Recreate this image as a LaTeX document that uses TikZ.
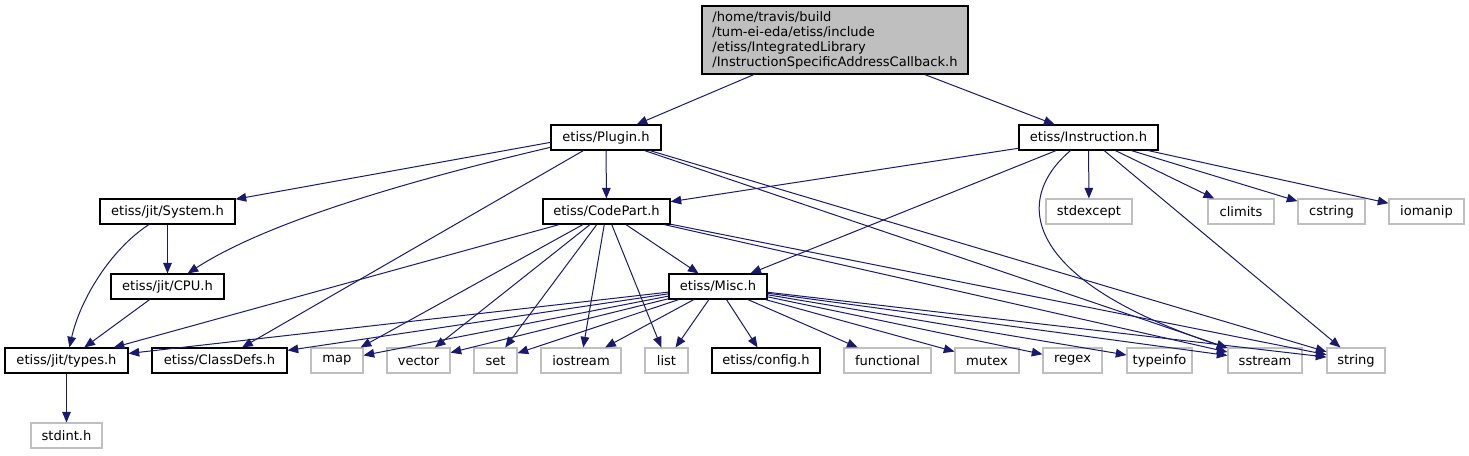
\documentclass[tikz,border=0pt]{standalone}
\usepackage{fontspec}
\setmainfont{DejaVu Sans}
\usetikzlibrary{arrows.meta}
\definecolor{incblue}{HTML}{191970}
\definecolor{sysgray}{HTML}{BFBFBF}
\tikzset{
  hfile/.style={draw=black, line width=0.8pt, minimum height=18.75pt, inner sep=0pt,
    font=\fontsize{9.8}{11.25}\selectfont},
  sfile/.style={hfile, draw=sysgray},
  bw/.style={minimum width=#1*0.75pt},
  inc/.style={draw=incblue, line width=0.75pt, -{Triangle[length=8pt,width=6.5pt]}},
}
\begin{document}
\begin{tikzpicture}[x=0.75pt,y=-0.75pt]
    \useasboundingbox (0,0) rectangle (1469,455);
    \node[hfile, fill=sysgray, bw=266, minimum height=51pt, align=left] (root) at (835,40)
      {/home/travis/build\\/tum-ei-eda/etiss/include\\/etiss/IntegratedLibrary\\/InstructionSpecificAddressCallback.h};
    \node[hfile, bw=110] (plugin) at (606,137.5) {etiss/Plugin.h};
    \node[hfile, bw=139] (instr) at (1088.5,137.5) {etiss/Instruction.h};
    \node[hfile, bw=135] (system) at (167.5,211.5) {etiss/jit/System.h};
    \node[hfile, bw=127] (codepart) at (606.5,211.5) {etiss/CodePart.h};
    \node[hfile, bw=113] (cpu) at (167.5,286.5) {etiss/jit/CPU.h};
    \node[hfile, bw=98] (misc) at (718,286.5) {etiss/Misc.h};
    \node[hfile, bw=123] (types) at (66.5,360.5) {etiss/jit/types.h};
    \node[hfile, bw=135] (classdefs) at (219.5,360.5) {etiss/ClassDefs.h};
    \node[hfile, bw=108] (config) at (766,360.5) {etiss/config.h};
    \node[sfile, bw=71] (stdint) at (66.5,435.5) {stdint.h};
    \foreach \n/\x/\w in {stdexcept/1089/86,climits/1241/66,cstring/1331.5/67,iomanip/1426.5/75} {
      \node[sfile, bw=\w] (\n) at (\x,211.5) {\n};
    }
    \foreach \n/\x/\w in {map/337/52,vector/418.5/63,set/495.5/43,iostream/581/80,list/666.5/43,
      functional/887.5/87,mutex/987/64,regex/1072.5/59,typeinfo/1159.5/65,sstream/1265/74,string/1356/58} {
      \node[sfile, bw=\w] (\n) at (\x,360.5) {\n};
    }
    \draw[inc] (root) -- (plugin);
    \draw[inc] (root) -- (instr);
    \draw[inc] (plugin.185) -- (system);
    \draw[inc] (plugin.190) .. controls (420,178) and (270,220) .. (cpu);
    \foreach \t in {codepart,classdefs,sstream,string} {
      \draw[inc] (plugin) -- (\t);
    }
    \foreach \t in {codepart,misc,stdexcept,string,climits,cstring,iomanip} {
      \draw[inc] (instr) -- (\t);
    }
    \draw[inc] (instr.216) .. controls (1012,200) and (1022,280) .. (sstream);
    \draw[inc] (system) -- (cpu);
    \draw[inc] (system.215) .. controls (110,250) and (80,300) .. (types);
    \draw[inc] (cpu) -- (types);
    \foreach \t in {types,map,vector,set,iostream,list,misc,sstream,string} {
      \draw[inc] (codepart) -- (\t);
    }
    \foreach \t in {types,classdefs,map,vector,set,iostream,list,config,functional,mutex,regex,typeinfo,sstream,string} {
      \draw[inc] (misc) -- (\t);
    }
    \draw[inc] (types) -- (stdint);
  \end{tikzpicture}
\end{document}
